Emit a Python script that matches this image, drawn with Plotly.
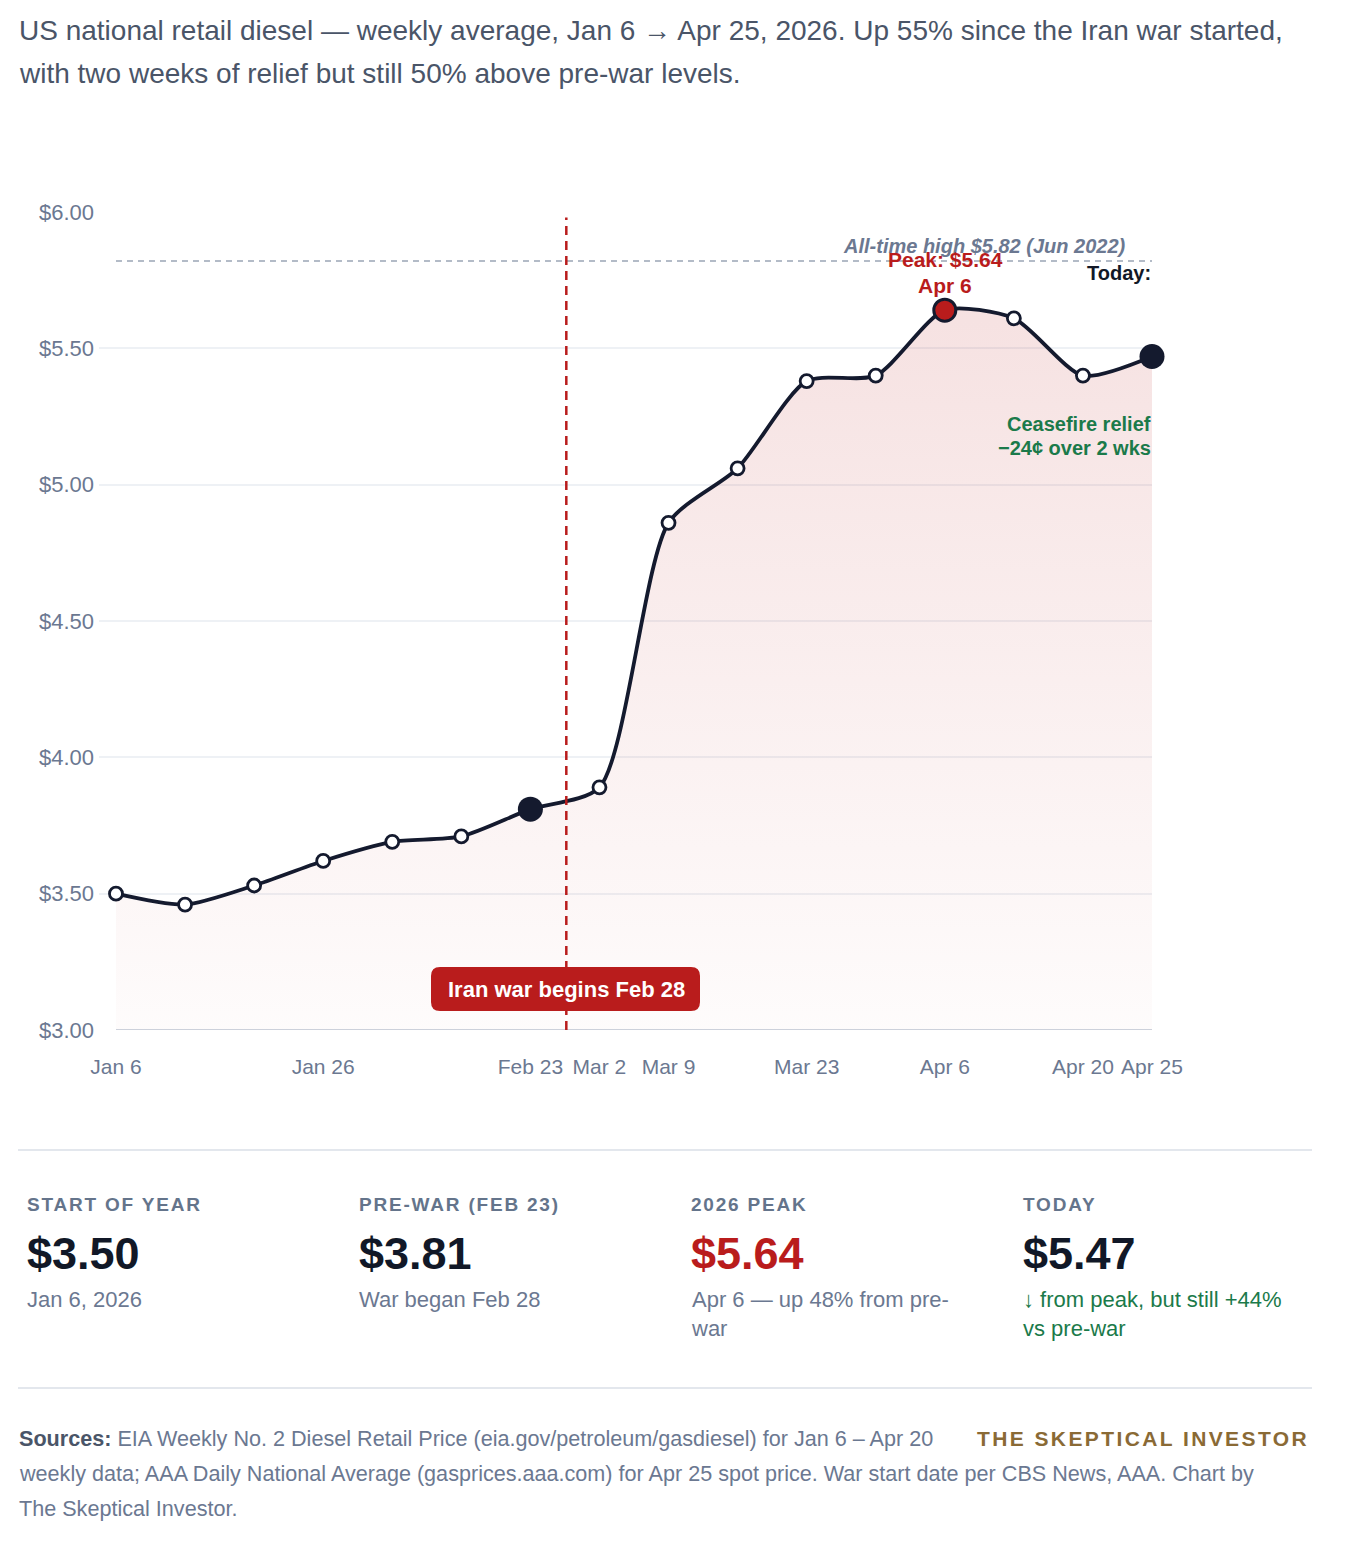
import plotly.graph_objects as go

W, H = 1352, 1546
FONT = "Liberation Sans, Arial, sans-serif"
OFF = 8  # page body margin

# weekly averages (category axis, one slot per observation)
week_labels = ["Jan 6", "Jan 12", "Jan 19", "Jan 26", "Feb 9", "Feb 16", "Feb 23", "Mar 2",
               "Mar 9", "Mar 16", "Mar 23", "Mar 30", "Apr 6", "Apr 13", "Apr 20", "Apr 25"]
diesel_price = [3.50, 3.46, 3.53, 3.62, 3.69, 3.71, 3.81, 3.89,
                4.86, 5.06, 5.38, 5.40, 5.64, 5.61, 5.40, 5.47]
shown_ticks = ["Jan 6", "Jan 26", "Feb 23", "Mar 2", "Mar 9", "Mar 23", "Apr 6", "Apr 20", "Apr 25"]
y_ticks = [3.0, 3.5, 4.0, 4.5, 5.0, 5.5, 6.0]
all_time_high = 5.82
war_start_pos = 6.52  # Feb 28 sits between Feb 23 and Mar 2
prewar_idx, peak_idx, today_idx = 6, 12, 15

stat_labels = ["START OF YEAR", "PRE-WAR (FEB 23)", "2026 PEAK", "TODAY"]
stat_values = ["$3.50", "$3.81", "$5.64", "$5.47"]
stat_notes = ["Jan 6, 2026", "War began Feb 28", "Apr 6 — up 48% from pre-<br>war",
              "↓ from peak, but still +44%<br>vs pre-war"]
stat_value_colors = ["#111827", "#111827", "#b91c1c", "#111827"]
stat_note_colors = ["#6b7891", "#6b7891", "#6b7891", "#1b7a4a"]

NAVY = "#141a2e"
RED = "#b91c1c"
GRAY = "#6b7891"


def px(x):
    return (x - OFF) / W


def py(y):
    return 1 - (y - OFF) / H


fig = go.Figure()

# shaded area + line
fig.add_trace(go.Scatter(
    x=week_labels, y=diesel_price, mode="lines+markers",
    line=dict(color=NAVY, width=3.8, shape="spline", smoothing=0.7),
    marker=dict(size=13, color="white", line=dict(color=NAVY, width=2.8)),
    fill="tozeroy",
    fillgradient=dict(type="vertical", start=3.0, stop=5.65,
                      colorscale=[[0, "rgba(185,28,28,0.015)"], [1, "rgba(185,28,28,0.13)"]]),
    hoverinfo="skip", showlegend=False,
))

# highlighted points
fig.add_trace(go.Scatter(
    x=[week_labels[prewar_idx], week_labels[today_idx]],
    y=[diesel_price[prewar_idx], diesel_price[today_idx]],
    mode="markers", marker=dict(size=25, color=NAVY, line=dict(width=0)),
    cliponaxis=False, showlegend=False, hoverinfo="skip",
))
fig.add_trace(go.Scatter(
    x=[week_labels[peak_idx]], y=[diesel_price[peak_idx]],
    mode="markers", marker=dict(size=22, color=RED, line=dict(color=NAVY, width=3)),
    cliponaxis=False, showlegend=False, hoverinfo="skip",
))

# bottom axis line and reference lines
fig.add_shape(type="line", xref="x", yref="y", x0=0, x1=15, y0=3.0, y1=3.0,
              line=dict(color="#cdd4de", width=2), layer="below")
fig.add_shape(type="line", xref="x", yref="y", x0=0, x1=15, y0=all_time_high, y1=all_time_high,
              line=dict(color="#9aa5b5", width=1.5, dash="6px,5px"), layer="below")
fig.add_shape(type="line", xref="x", yref="y", x0=war_start_pos, x1=war_start_pos, y0=3.0, y1=5.98,
              line=dict(color=RED, width=2.5, dash="9px,6px"))

# rounded label box for the war start
bx0, bx1, by0, by1, r = 431, 700, 967, 1011, 9
path = (f"M {px(bx0 + r)},{py(by0)} L {px(bx1 - r)},{py(by0)} "
        f"Q {px(bx1)},{py(by0)} {px(bx1)},{py(by0 + r)} L {px(bx1)},{py(by1 - r)} "
        f"Q {px(bx1)},{py(by1)} {px(bx1 - r)},{py(by1)} L {px(bx0 + r)},{py(by1)} "
        f"Q {px(bx0)},{py(by1)} {px(bx0)},{py(by1 - r)} L {px(bx0)},{py(by0 + r)} "
        f"Q {px(bx0)},{py(by0)} {px(bx0 + r)},{py(by0)} Z")
fig.add_shape(type="path", xref="paper", yref="paper", path=path,
              fillcolor=RED, line=dict(width=0))

ann = []


def text(x, y, s, size, color, anchor="left", bold=False, italic=False):
    if bold:
        s = f"<b>{s}</b>"
    if italic:
        s = f"<i>{s}</i>"
    ann.append(dict(x=px(x), y=py(y), xref="paper", yref="paper", text=s, showarrow=False,
                    xanchor=anchor, yanchor="middle",
                    font=dict(family=FONT, size=size, color=color)))


# title
text(17, 31, "US national retail diesel — weekly average, Jan 6 → Apr 25, 2026. Up 55% since the Iran war started,",
     28, "#4a5568")
text(17, 73, "with two weeks of relief but still 50% above pre-war levels.", 28, "#4a5568")

# chart annotations
text(1128, 246, "All-time high $5.82 (Jun 2022)", 20, "#6b7891", anchor="right", bold=True, italic=True)
text(945, 260, "Peak: $5.64", 21, RED, anchor="center", bold=True)
text(945, 286, "Apr 6", 21, RED, anchor="center", bold=True)
text(1153, 273, "Today:", 20, "#111827", anchor="right", bold=True)
text(1153, 424, "Ceasefire relief", 20, "#1b7a4a", anchor="right", bold=True)
text(1153, 448, "−24¢ over 2 wks", 20, "#1b7a4a", anchor="right", bold=True)
text(566, 989, "Iran war begins Feb 28", 22, "white", anchor="center", bold=True)

# dividers
for yy in (1150, 1388):
    fig.add_shape(type="line", xref="paper", yref="paper", x0=px(18), x1=px(1312), y0=py(yy), y1=py(yy),
                  line=dict(color="#e3e7ed", width=2))

# stat blocks
for i, (lab, val, note) in enumerate(zip(stat_labels, stat_values, stat_notes)):
    x0 = 25 + i * 332
    text(x0, 1204, f'<span style="letter-spacing:1.8px">{lab}</span>', 19, "#64748b", bold=True)
    text(x0, 1253, val, 45, stat_value_colors[i], bold=True)
    ann.append(dict(x=px(x0), y=py(1285), xref="paper", yref="paper", text=note, showarrow=False,
                    xanchor="left", yanchor="top", align="left",
                    font=dict(family=FONT, size=22, color=stat_note_colors[i])))

# sources
text(17, 1438, '<b><span style="color:#4a5568">Sources:</span></b> EIA Weekly No. 2 Diesel Retail Price '
     '(eia.gov/petroleum/gasdiesel) for Jan 6 – Apr 20', 21.6, GRAY)
text(17, 1473, "weekly data; AAA Daily National Average (gasprices.aaa.com) for Apr 25 spot price. "
     "War start date per CBS News, AAA. Chart by", 21.6, GRAY)
text(17, 1508, "The Skeptical Investor.", 21.6, GRAY)
text(1311, 1438, '<span style="letter-spacing:2.4px">THE SKEPTICAL INVESTOR</span>', 21, "#8a6a35",
     anchor="right", bold=True)

fig.update_layout(
    width=W, height=H,
    margin=dict(l=0, r=0, t=0, b=0),
    paper_bgcolor="white", plot_bgcolor="white",
    annotations=ann,
    showlegend=False,
    font=dict(family=FONT),
)
fig.update_xaxes(
    type="category", domain=[px(99), px(1152)], range=[-0.246, 15],
    tickmode="array", tickvals=shown_ticks, ticktext=shown_ticks,
    showgrid=False, showline=False, zeroline=False, ticks="",
    tickfont=dict(family=FONT, size=21, color=GRAY), ticklabelstandoff=22,
    automargin=False, fixedrange=True,
)
fig.update_yaxes(
    domain=[py(1030), py(212)], range=[3.0, 6.0],
    tickvals=y_ticks, ticktext=[f"${v:.2f}" for v in y_ticks],
    showgrid=True, gridcolor="#eef1f5", gridwidth=1.5, zeroline=False, showline=False, ticks="",
    tickfont=dict(family=FONT, size=22, color=GRAY), ticklabelstandoff=4,
    automargin=False, fixedrange=True,
)

fig.write_html("out.html")
